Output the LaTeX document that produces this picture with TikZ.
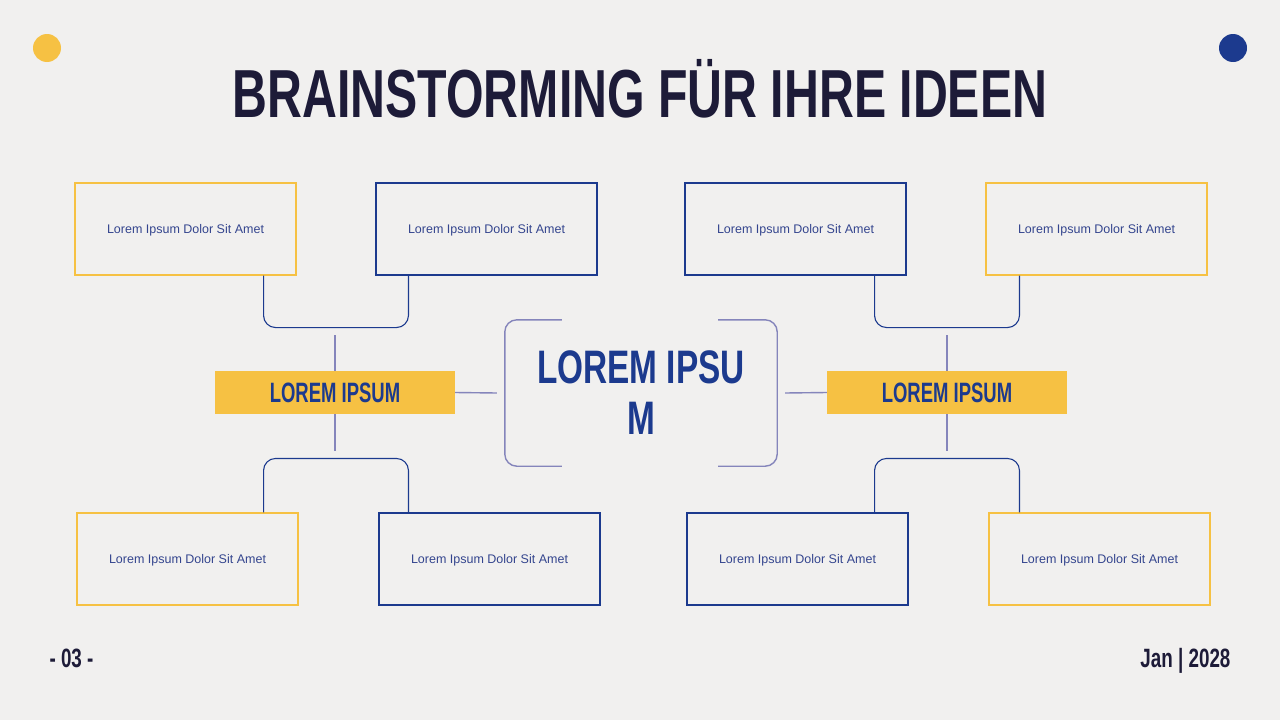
\documentclass[tikz,border=0pt]{standalone}
\usepackage{fontspec}
\setmainfont{Liberation Sans}
\newfontfamily\headfont{Liberation Sans}[FakeStretch=0.66]
\newfontfamily\titlefont{Liberation Sans}[FakeStretch=0.71]
\usetikzlibrary{positioning,calc}

\definecolor{paper}{HTML}{F1F0EF}
\definecolor{sun}{HTML}{F6C143}
\definecolor{navy}{HTML}{1C3A8E}
\definecolor{ink}{HTML}{1D1B38}
\definecolor{lilac}{HTML}{8585BB}
\definecolor{softnavy}{HTML}{34458E}

\begin{document}
\begin{tikzpicture}[x=1pt, y=-1pt,
    idea/.style={draw=#1, line width=1.1pt, minimum width=221pt, minimum height=92pt, text depth=0pt, font=\fontsize{12.5}{14}\selectfont, text=softnavy},
    tag/.style={fill=sun, minimum width=240pt, minimum height=43pt, inner sep=0pt, font=\headfont\bfseries\fontsize{28}{30}\selectfont, text=navy},
    link/.style={draw=navy, line width=1.1pt, rounded corners=12pt},
    stem/.style={draw=lilac, line width=1.4pt},
    dot/.style={circle, fill=#1, minimum size=28pt, inner sep=0pt},
    foot/.style={font=\titlefont\bfseries\fontsize{26.5}{27}\selectfont, text=ink}
]
    % Canvas
    \fill[paper] (0,0) rectangle (1280,720);
    \useasboundingbox (0,0) rectangle (1280,720);

    % Corner dots and title
    \node[dot=sun] (dotl) at (47,48) {};
    \node[dot=navy] (dotr) at (1233,48) {};
    \node[anchor=base, font=\titlefont\bfseries\fontsize{68}{68}\selectfont, text=ink] (title) at (640,117) {BRAINSTORMING FÜR IHRE IDEEN};

    % Top row
    \node[idea=sun] (tl1) at (185.5,229) {Lorem Ipsum Dolor Sit Amet};
    \node[idea=navy] (tl2) at (486.5,229) {Lorem Ipsum Dolor Sit Amet};
    \node[idea=navy] (tr2) at (795.5,229) {Lorem Ipsum Dolor Sit Amet};
    \node[idea=sun] (tr1) at (1096.5,229) {Lorem Ipsum Dolor Sit Amet};

    % Bottom row
    \node[idea=sun] (bl1) at (187.5,559) {Lorem Ipsum Dolor Sit Amet};
    \node[idea=navy] (bl2) at (489.5,559) {Lorem Ipsum Dolor Sit Amet};
    \node[idea=navy] (br2) at (797.5,559) {Lorem Ipsum Dolor Sit Amet};
    \node[idea=sun] (br1) at (1099.5,559) {Lorem Ipsum Dolor Sit Amet};

    % Middle row
    \node[tag] (lt) at (335,392.5) {LOREM IPSUM};
    \node[tag] (rt) at (947,392.5) {LOREM IPSUM};
    \node[minimum width=272pt, minimum height=146pt, align=center, text=navy, font=\titlefont\bfseries\fontsize{47}{51}\selectfont] (core) at (641,393) {LOREM IPSU\\M};

    % Brackets round the core
    \draw[stem, rounded corners=12pt] ([xshift=57pt]core.north west) -- (core.north west) -- (core.south west) -- ([xshift=57pt]core.south west);
    \draw[stem, rounded corners=12pt] ([xshift=-59pt]core.north east) -- (core.north east) -- (core.south east) -- ([xshift=-59pt]core.south east);

    % Tags to core
    \draw[stem] (lt.east) -- ([xshift=-8pt]core.west);
    \draw[stem] ([xshift=8pt]core.east) -- (rt.west);

    % Stems above and below the tags
    \draw[stem] (lt.north) -- ([yshift=36pt]lt.north);
    \draw[stem] (lt.south) -- ([yshift=-37pt]lt.south);
    \draw[stem] (rt.north) -- ([yshift=36pt]rt.north);
    \draw[stem] (rt.south) -- ([yshift=-37pt]rt.south);

    % Links between the boxes
    \draw[link] ([xshift=-33pt]tl1.south east) -- ++(0,52) -| ([xshift=33pt]tl2.south west);
    \draw[link] ([xshift=-35pt]bl1.north east) -- ++(0,-54) -| ([xshift=30pt]bl2.north west);
    \draw[link] ([xshift=-32pt]tr2.south east) -- ++(0,52) -| ([xshift=34pt]tr1.south west);
    \draw[link] ([xshift=-34pt]br2.north east) -- ++(0,-54) -| ([xshift=31pt]br1.north west);

    % Footer
    \node[foot, anchor=base west] (page) at (46,667) {- 03 -};
    \node[foot, anchor=base east] (date) at (1234,667) {Jan | 2028};
\end{tikzpicture}
\end{document}
